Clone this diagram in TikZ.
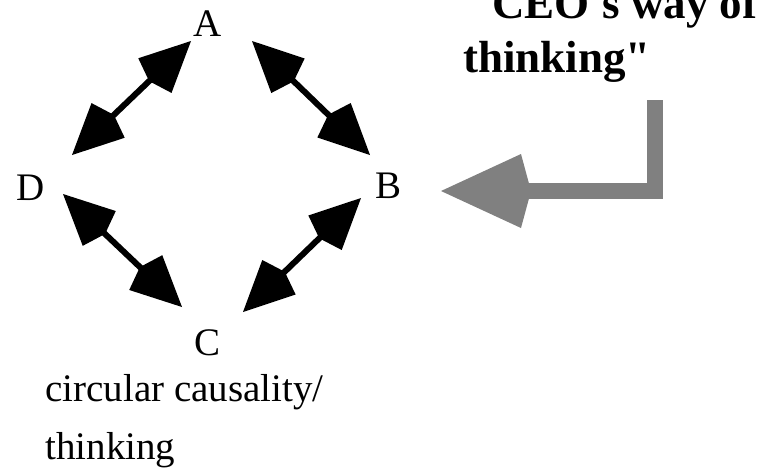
\documentclass[tikz,border=0pt]{standalone}
\usepackage{fontspec}
\setmainfont{Liberation Serif}
\usepackage{tikz}
\usetikzlibrary{arrows.meta}

\begin{document}
\begin{tikzpicture}[
  x=0.5pt, y=-0.5pt,
  letter/.style={inner sep=0pt, font=\fontsize{19.5}{23}\selectfont},
  headline/.style={inner sep=0pt, anchor=base west, font=\fontsize{22.5}{27}\selectfont\bfseries},
  twoway/.style={{Kite[length=29pt, width=24pt, inset=4pt]}-{Kite[length=29pt, width=24pt, inset=4pt]}, line width=3pt, draw=black},
  bigarrow/.style={-{Kite[length=45pt, width=37pt, inset=5pt]}, line width=8pt, draw=black!50, line join=miter}
]
\clip (0,0) rectangle (767,473);

% the four corners of the loop
\node[letter] (A) at (208,24) {A};
\node[letter] (B) at (389,186) {B};
\node[letter] (C) at (208,343) {C};
\node[letter] (D) at (31,188) {D};

\node[letter, anchor=north west, align=left, font=\fontsize{19.5}{29}\selectfont] (caption) at (45,374) {circular causality/\\thinking};

% quote on the right
\node[headline] (ceo) at (492,18) {CEO\textquotesingle s way of};
\node[headline] (thinking) at (463,72) {thinking\textquotedbl};

% double headed links, offsets in pixels from the letter centres
\foreach \a/\ax/\ay/\b/\bx/\by in {A/44/17/B/-19/-31, A/-17/17/D/41/-33, D/32/6/C/-26/-36, B/-28/12/C/35/-31}
  \draw[twoway] ([shift={(\ax,\ay)}]\a.center) -- ([shift={(\bx,\by)}]\b.center);

% grey bent arrow pointing at B
\coordinate (top) at (655,100);
\coordinate (tip) at (441,191);
\draw[bigarrow] (top) -- (top |- tip) -- (tip);
\end{tikzpicture}
\end{document}
